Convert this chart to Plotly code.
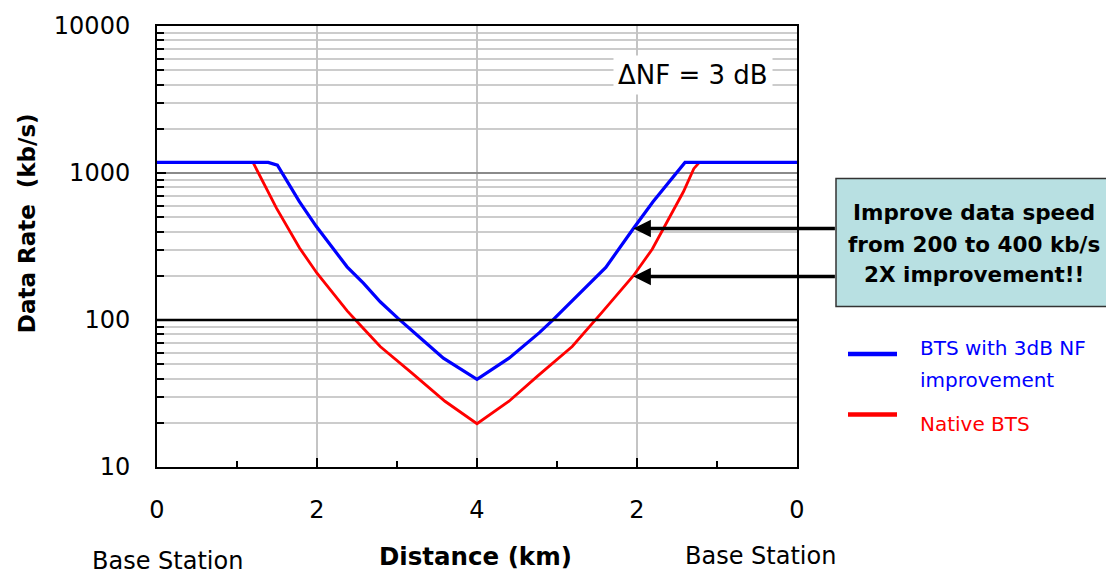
import plotly.graph_objects as go

# ---- data (distance position 0..8 km across two cells; value kb/s) ----
x_blue = [0.0, 1.39, 1.505, 1.78, 1.99, 2.376, 2.58, 2.79, 3.01, 3.18, 3.36, 3.58, 4.0,
          4.40, 4.78, 4.94, 5.20, 5.61, 5.955, 6.20, 6.60, 8.0]
y_blue = [1180, 1180, 1130, 638, 434, 230, 178, 133, 103, 86, 70, 55, 39.5,
          55, 82, 99, 136, 228, 419, 638, 1180, 1180]

x_red = [0.0, 1.20, 1.495, 1.78, 2.0, 2.38, 2.56, 2.79, 3.18, 3.60, 4.0,
         4.40, 4.76, 5.19, 5.57, 5.955, 6.19, 6.58, 6.71, 6.78, 8.0]
y_red = [1180, 1180, 575, 310, 208, 115, 90, 66, 43.9, 28, 19.7,
         28, 41.7, 66, 114, 200, 303, 745, 1070, 1180, 1180]

threshold_x = [0, 8]
threshold_y = [100, 100]

x_tickvals = [0, 2, 4, 6, 8]
x_ticktext = ["0", "2", "4", "2", "0"]
y_tickvals = [10, 100, 1000, 10000]
y_ticktext = ["10", "100", "1000", "10000"]
y_minor = [m * d for d in (10, 100, 1000) for m in range(2, 10)]

series_names = ["BTS with 3dB NF", "improvement"]
red_name = "Native BTS"
callout_lines = ["Improve data speed", "from 200 to 400 kb/s", "2X improvement!!"]

FONT = "DejaVu Sans"
BLUE = "#0000ff"
RED = "#ff0000"

fig = go.Figure()
fig.add_trace(go.Scatter(x=x_red, y=y_red, mode="lines", name=red_name,
                         line=dict(color=RED, width=2.8), showlegend=False))
fig.add_trace(go.Scatter(x=x_blue, y=y_blue, mode="lines", name=" ".join(series_names),
                         line=dict(color=BLUE, width=3.2), showlegend=False))
fig.add_trace(go.Scatter(x=threshold_x, y=threshold_y, mode="lines",
                         line=dict(color="black", width=2.5), showlegend=False,
                         hoverinfo="skip"))

fig.update_layout(
    width=1106, height=576, autosize=False,
    margin=dict(l=157, r=309, t=22, b=109),
    plot_bgcolor="white", paper_bgcolor="white",
    font=dict(family=FONT, size=21, color="black"),
    showlegend=False,
)

fig.update_xaxes(
    range=[0, 8], tickvals=x_tickvals, ticktext=x_ticktext,
    showgrid=True, gridcolor="#c4c4c4", gridwidth=1.5,
    showline=True, linecolor="black", linewidth=2, mirror=True,
    ticks="inside", ticklen=9, tickcolor="black", tickwidth=1.5,
    ticklabelstandoff=20, zeroline=False,
    tickfont=dict(size=24),
    minor=dict(tickvals=[1, 3, 5, 7], ticks="inside", ticklen=6,
               tickcolor="black", tickwidth=1.5, showgrid=False),
)
fig.update_yaxes(
    type="log", range=[1, 4], tickvals=y_tickvals, ticktext=y_ticktext,
    showgrid=True, gridcolor="#8a8a8a", gridwidth=1.5,
    showline=True, linecolor="black", linewidth=2, mirror=True,
    ticks="inside", ticklen=9, tickcolor="black", tickwidth=1.5,
    ticklabelstandoff=20, zeroline=False,
    tickfont=dict(size=24),
    minor=dict(tickvals=y_minor, ticks="inside", ticklen=7, tickcolor="black",
               tickwidth=1.5, showgrid=True, gridcolor="#cccccc", gridwidth=1.5),
)

def px(X):
    return (X - 157) / 640.0

def py(Y):
    return (467 - Y) / 445.0

shapes = [
    # callout box
    dict(type="rect", xref="paper", yref="paper", x0=px(836), x1=px(1112),
         y0=py(305), y1=py(176), fillcolor="#b8e0e2",
         line=dict(color="#333333", width=1.5), layer="above"),
    # legend samples
    dict(type="line", xref="paper", yref="paper", x0=px(848), x1=px(897),
         y0=py(353), y1=py(353), line=dict(color=BLUE, width=4.5)),
    dict(type="line", xref="paper", yref="paper", x0=px(848), x1=px(897),
         y0=py(414), y1=py(414), line=dict(color=RED, width=4.5)),
]

annotations = [
    # axis titles and base station labels
    dict(text="<b>Data Rate  (kb/s)</b>", x=px(27), y=py(221), xref="paper", yref="paper",
         textangle=-90, showarrow=False, font=dict(size=23), xanchor="center", yanchor="middle"),
    dict(text="<b>Distance (km)</b>", x=px(475), y=py(557), xref="paper", yref="paper",
         showarrow=False, font=dict(size=24.5), xanchor="center", yanchor="middle"),
    dict(text="Base Station", x=px(167), y=py(562), xref="paper", yref="paper",
         showarrow=False, font=dict(size=24), xanchor="center", yanchor="middle"),
    dict(text="Base Station", x=px(760), y=py(557), xref="paper", yref="paper",
         showarrow=False, font=dict(size=24), xanchor="center", yanchor="middle"),
    # delta NF label
    dict(text="\u0394NF = 3 dB", x=px(693), y=py(71), xref="paper", yref="paper",
         showarrow=False, font=dict(size=26), bgcolor="white", borderpad=4,
         xanchor="center", yanchor="middle"),
    # legend texts
    dict(text=series_names[0], x=px(918), y=py(347), xref="paper", yref="paper",
         showarrow=False, font=dict(size=20, color=BLUE), xanchor="left", yanchor="middle"),
    dict(text=series_names[1], x=px(918), y=py(379), xref="paper", yref="paper",
         showarrow=False, font=dict(size=20, color=BLUE), xanchor="left", yanchor="middle"),
    dict(text=red_name, x=px(918), y=py(424), xref="paper", yref="paper",
         showarrow=False, font=dict(size=20, color=RED), xanchor="left", yanchor="middle"),
    # arrows to curves
    dict(text="", x=5.955, y=2.622, xref="x", yref="y", ax=203, ay=0,
         axref="pixel", ayref="pixel", showarrow=True, arrowhead=2, arrowsize=1,
         arrowwidth=3.5, arrowcolor="black", standoff=0),
    dict(text="", x=5.955, y=2.296, xref="x", yref="y", ax=203, ay=0,
         axref="pixel", ayref="pixel", showarrow=True, arrowhead=2, arrowsize=1,
         arrowwidth=3.5, arrowcolor="black", standoff=0),
]
# callout text lines
for txt, yy in zip(callout_lines, [210, 242, 273]):
    annotations.append(dict(text="<b>" + txt + "</b>", x=px(974), y=py(yy),
                            xref="paper", yref="paper", showarrow=False,
                            font=dict(size=21.5), xanchor="center", yanchor="middle"))

fig.update_layout(annotations=annotations, shapes=shapes)

fig.write_html("out.html")
